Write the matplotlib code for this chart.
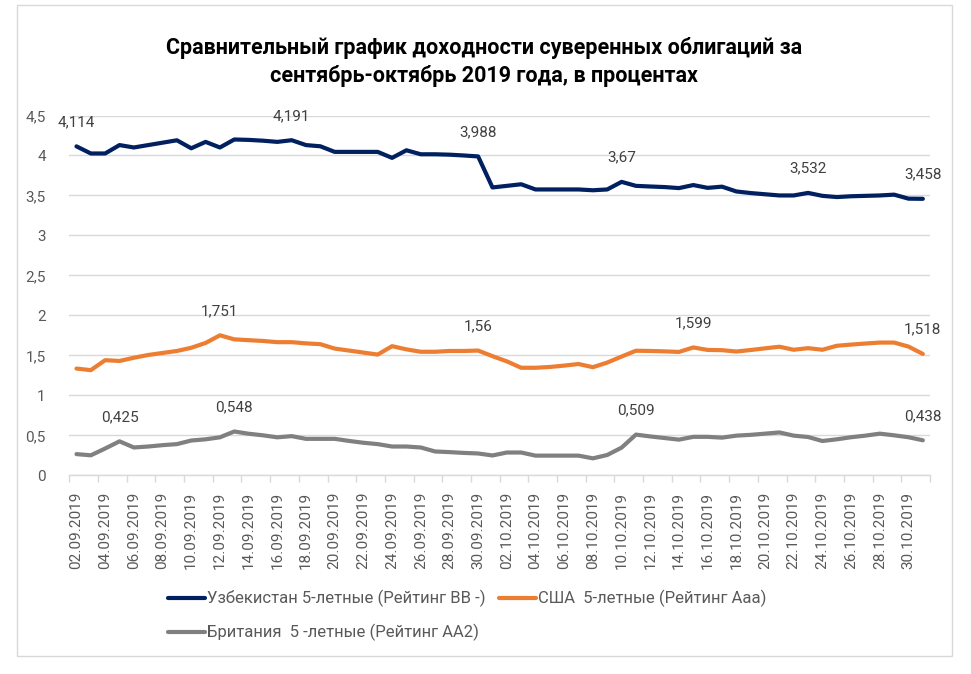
import matplotlib
matplotlib.use("Agg")
import matplotlib.pyplot as plt
from matplotlib.patches import Rectangle
import numpy as np
import pandas as pd

plt.rcParams['font.family'] = ['Roboto', 'DejaVu Sans']

dates = pd.date_range('2019-09-02', '2019-10-31', freq='D')
date_labels = [d.strftime('%d.%m.%Y') for d in dates]

uzb = [4.114, 4.025, 4.025, 4.13, 4.10, 4.13, 4.16, 4.19, 4.09, 4.17,
       4.10, 4.20, 4.195, 4.185, 4.17, 4.191, 4.13, 4.115, 4.045, 4.045,
       4.045, 4.045, 3.97, 4.065, 4.015, 4.015, 4.01, 4.0, 3.988, 3.60,
       3.62, 3.64, 3.575, 3.575, 3.575, 3.575, 3.565, 3.575, 3.67, 3.62,
       3.612, 3.605, 3.592, 3.63, 3.595, 3.61, 3.55, 3.53, 3.515, 3.50,
       3.50, 3.532, 3.495, 3.48, 3.49, 3.495, 3.50, 3.51, 3.46, 3.458]
usa = [1.335, 1.315, 1.44, 1.43, 1.47, 1.505, 1.53, 1.555, 1.595, 1.655,
       1.751, 1.70, 1.69, 1.68, 1.665, 1.665, 1.65, 1.64, 1.585, 1.56,
       1.535, 1.51, 1.615, 1.575, 1.545, 1.545, 1.555, 1.555, 1.56, 1.49,
       1.425, 1.345, 1.345, 1.355, 1.372, 1.392, 1.352, 1.41, 1.485, 1.558,
       1.555, 1.55, 1.543, 1.599, 1.568, 1.565, 1.548, 1.567, 1.588, 1.608,
       1.57, 1.59, 1.57, 1.62, 1.635, 1.648, 1.66, 1.66, 1.61, 1.518]
gbr = [0.265, 0.25, 0.335, 0.425, 0.348, 0.36, 0.377, 0.39, 0.435, 0.45,
       0.475, 0.548, 0.52, 0.50, 0.475, 0.49, 0.456, 0.456, 0.456, 0.43,
       0.407, 0.39, 0.36, 0.36, 0.348, 0.298, 0.29, 0.28, 0.273, 0.248,
       0.285, 0.285, 0.246, 0.246, 0.246, 0.246, 0.212, 0.254, 0.346, 0.509,
       0.486, 0.466, 0.446, 0.481, 0.481, 0.471, 0.496, 0.506, 0.521, 0.536,
       0.496, 0.479, 0.429, 0.45, 0.476, 0.496, 0.521, 0.5, 0.476, 0.438]

series_names = ['Узбекистан 5-летные (Рейтинг ВВ -)',
                'США  5-летные (Рейтинг Ааа)',
                'Британия  5 -летные (Рейтинг АА2)']
series_colors = ['#002060', '#ED7D31', '#808080']
labeled_idx = [[0, 15, 28, 38, 51, 59], [10, 28, 43, 59], [3, 11, 39, 59]]

title = 'Сравнительный график доходности суверенных облигаций за\nсентябрь-октябрь 2019 года, в процентах'
yticks = [0, 0.5, 1, 1.5, 2, 2.5, 3, 3.5, 4, 4.5]

W, H = 971, 674
fig = plt.figure(figsize=(W / 100, H / 100), dpi=100)
fig.patches.append(Rectangle((17 / W, 1 - 656 / H), (952 - 17) / W, (656 - 5) / H,
                             transform=fig.transFigure, fill=False,
                             edgecolor='#d9d9d9', lw=1))
ax = fig.add_axes([69.3 / W, 1 - 475.3 / H, (930 - 69.3) / W, (475.3 - 115.5) / H])

x = np.arange(len(dates))
lines = []
for vals, name, col in zip([uzb, usa, gbr], series_names, series_colors):
    ln, = ax.plot(x, vals, color=col, lw=3.0, solid_joinstyle='round',
                  solid_capstyle='round', label=name, zorder=3)
    lines.append(ln)

def fmt(v):
    s = ('%.3f' % v).rstrip('0').rstrip('.')
    return s.replace('.', ',')

for vals, idxs in zip([uzb, usa, gbr], labeled_idx):
    for i in idxs:
        ax.annotate(fmt(vals[i]), (x[i], vals[i]), xytext=(0, 17.5),
                    textcoords='offset points', ha='center', va='center',
                    fontsize=11, color='#404040', zorder=4)

ax.set_xlim(-0.5, len(dates) - 0.5)
ax.set_ylim(0, 4.5)
ax.set_yticks(yticks)
ax.set_yticklabels([fmt(v) for v in yticks])
ax.tick_params(axis='y', length=0, pad=17, labelsize=11, labelcolor='#595959')
ax.yaxis.grid(True, color='#d9d9d9', lw=1)
ax.set_axisbelow(True)

ax.set_xticks(np.arange(-0.5, len(dates), 2))
ax.set_xticklabels([])
ax.set_xticks(x[::2], minor=True)
ax.set_xticklabels(date_labels[::2], minor=True, rotation=90)
ax.tick_params(axis='x', which='major', length=5, color='#d9d9d9', width=1)
ax.tick_params(axis='x', which='minor', length=0, pad=12, labelsize=11,
               labelcolor='#595959')

for s in ['top', 'right', 'left']:
    ax.spines[s].set_visible(False)
ax.spines['bottom'].set_color('#d9d9d9')
ax.spines['bottom'].set_linewidth(1)

fig.text(484 / W, 1 - 62 / H, title, ha='center', va='center', fontsize=15.5,
         fontweight='bold', color='#000000', linespacing=1.35)

handles = [lines[0], lines[2], lines[1]]
labels = [series_names[0], series_names[2], series_names[1]]
fig.legend(handles, labels, ncol=2, loc='upper left',
           bbox_to_anchor=(168 / W, 1 - 590 / H), frameon=False,
           fontsize=12, labelcolor='#595959', borderpad=0, borderaxespad=0,
           handlelength=2.2, handletextpad=0.15, columnspacing=0.8,
           labelspacing=1.0)

fig.savefig('out.png', dpi=100)
